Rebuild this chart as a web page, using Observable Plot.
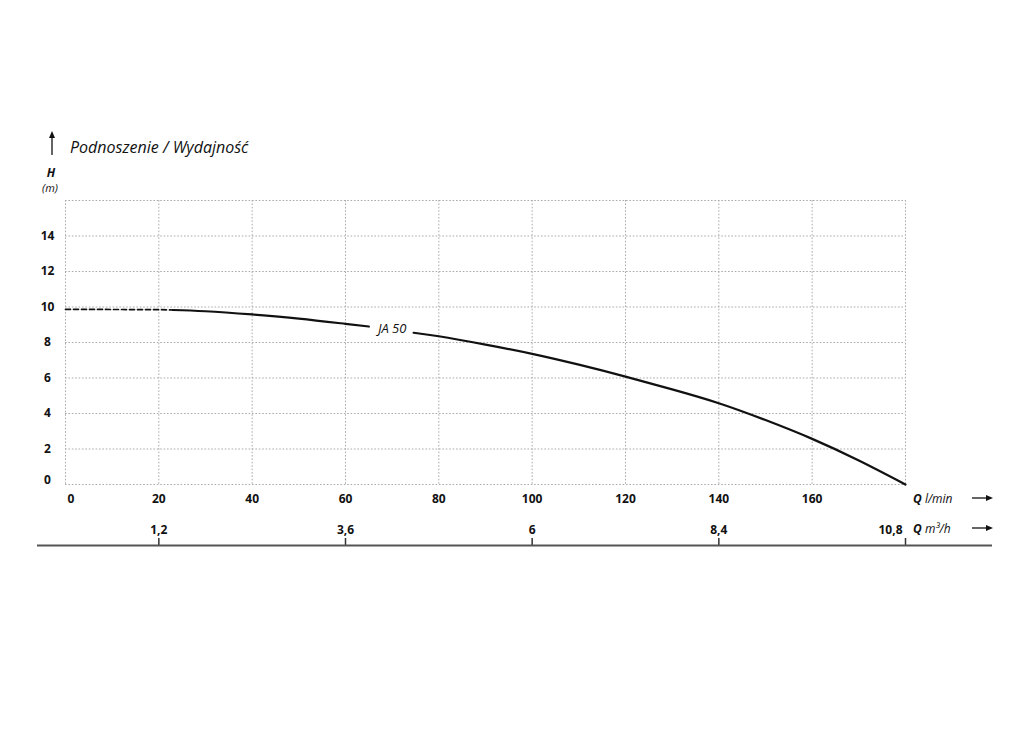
<!DOCTYPE html>
<html>
<head>
<meta charset="utf-8">
<script src="https://cdn.jsdelivr.net/npm/d3@7"></script>
<script src="https://cdn.jsdelivr.net/npm/@observablehq/plot@0.6"></script>
<style>
  html, body { margin: 0; padding: 0; background: #fff; }
  #chart { width: 1024px; height: 731px; }
</style>
</head>
<body>
<div id="chart"></div>
<script>
// ---- data ----
const qGrid = [0, 20, 40, 60, 80, 100, 120, 140, 160, 180];       // l/min grid lines
const hGrid = [0, 2, 4, 6, 8, 10, 12, 14, 16];                    // m grid lines
const qLabels = [20, 40, 60, 80, 100, 120, 140, 160];             // l/min tick labels (0 drawn separately)
const hLabels = [2, 4, 6, 8, 10, 12, 14];                         // m tick labels (0 drawn separately)
const m3hTicks = [1.2, 3.6, 6, 8.4, 10.8];                        // m3/h tick labels
const m3hText = ["1,2", "3,6", "6", "8,4", "10,8"];

// JA 50 curve: dashed start, then solid with a gap for its label
const dashQ = [0, 10, 20, 23];
const dashH = [9.87, 9.86, 9.85, 9.83];
const solidQ1 = [23, 30, 40, 50, 60, 65];
const solidH1 = [9.83, 9.76, 9.58, 9.35, 9.05, 8.9];
const solidQ2 = [74.6, 80, 90, 100, 110, 120, 130, 140, 150, 160, 170, 180];
const solidH2 = [8.55, 8.35, 7.88, 7.36, 6.75, 6.08, 5.36, 4.58, 3.63, 2.57, 1.35, 0];
const curveName = "JA 50";
const labelQ = 70, labelH = 8.79;

// ---- build ----
const FONT = "'Open Sans', 'DejaVu Sans', sans-serif";
const toRows = (qs, hs, seg) => qs.map((q, i) => ({q, h: hs[i], seg}));
const dashRows = toRows(dashQ, dashH, "d");
const solidRows = [...toRows(solidQ1, solidH1, "a"), ...toRows(solidQ2, solidH2, "b")];
const lpmFromM3h = v => v / 0.06;
const m3hPos = m3hTicks.map(lpmFromM3h);
const m3hLabelMap = new Map(m3hPos.map((p, i) => [Math.round(p * 1000) / 1000, m3hText[i]]));
const m3hFmt = d => m3hLabelMap.get(Math.round(d * 1000) / 1000);

const gridStyle = {stroke: "#ababab", strokeOpacity: 1, strokeWidth: 1, strokeDasharray: "1.6,1.8"};
const tickText = {fontWeight: "bold", fontSize: 12, label: null};

const chart = Plot.plot({
  width: 1024,
  height: 731,
  marginTop: 200,
  marginBottom: 247,
  marginLeft: 65,
  marginRight: 119,
  x: {domain: [0, 180]},
  y: {domain: [0, 16]},
  style: {fontFamily: FONT, background: "#fff", color: "#111", overflow: "visible"},
  marks: [
    Plot.gridX(qGrid, gridStyle),
    Plot.gridY(hGrid, gridStyle),
    // y tick labels
    Plot.axisY(hLabels, {...tickText, tickSize: 0, tickPadding: 18, textAnchor: "middle"}),
    Plot.axisY([0], {...tickText, tickSize: 0, tickPadding: 18, textAnchor: "middle", dy: -4}),
    // l/min tick labels
    Plot.axisX(qLabels, {...tickText, tickSize: 0, tickPadding: 10}),
    Plot.axisX([0], {...tickText, tickSize: 0, tickPadding: 10, textAnchor: "start", dx: 2}),
    // m3/h labels
    Plot.axisX(m3hPos.slice(0, -1), {...tickText, tickSize: 0, tickPadding: 41, tickFormat: m3hFmt}),
    Plot.axisX(m3hPos.slice(-1), {...tickText, tickSize: 0, tickPadding: 41, tickFormat: m3hFmt, textAnchor: "end", dx: -3}),
    // m3/h tick marks
    Plot.axisX(m3hPos, {tickSize: 7, dy: 54, tickFormat: () => "", label: null, stroke: "#333", strokeWidth: 1.5}),
    // base line
    Plot.ruleY([0], {dy: 61, insetLeft: -28, insetRight: -87, stroke: "#555", strokeWidth: 2}),
    // curve
    Plot.line(dashRows, {x: "q", y: "h", stroke: "#111", strokeWidth: 1.7, strokeDasharray: "5,3", curve: "monotone-x"}),
    Plot.line(solidRows, {x: "q", y: "h", z: "seg", stroke: "#111", strokeWidth: 2.2, curve: "natural"}),
    Plot.text([{q: labelQ, h: labelH, t: curveName}], {x: "q", y: "h", text: "t", fontStyle: "italic", fontSize: 13, fill: "#111"})
  ]
});
document.getElementById("chart").appendChild(chart);

// ---- annotations (titles, units, arrows) ----
const svg = d3.select(chart);
const ann = svg.append("g").attr("font-family", FONT).attr("fill", "#111").attr("text-anchor", "start");

function arrow(x1, y1, x2, y2) {
  const g = ann.append("g").attr("stroke", "#111").attr("fill", "#111");
  const ang = Math.atan2(y2 - y1, x2 - x1);
  const L = 7, W = 3;
  const bx = x2 - L * Math.cos(ang), by = y2 - L * Math.sin(ang);
  g.append("line").attr("x1", x1).attr("y1", y1).attr("x2", bx).attr("y2", by).attr("stroke-width", 1.3);
  const px = -Math.sin(ang) * W, py = Math.cos(ang) * W;
  g.append("path").attr("stroke", "none")
    .attr("d", `M${x2},${y2}L${bx + px},${by + py}L${bx - px},${by - py}Z`);
}

arrow(52, 155, 52, 131);
ann.append("text").attr("x", 70).attr("y", 153).attr("font-size", 16).attr("font-style", "italic")
  .attr("text-anchor", "start").text("Podnoszenie / Wydajność");
ann.append("text").attr("x", 51).attr("y", 177).attr("text-anchor", "middle").attr("font-size", 12)
  .attr("font-style", "italic").attr("font-weight", "bold").text("H");
ann.append("text").attr("x", 50).attr("y", 192).attr("text-anchor", "middle").attr("font-size", 11)
  .attr("font-style", "italic").text("(m)");

const q1 = ann.append("text").attr("x", 913).attr("y", 503).attr("font-size", 12).attr("font-style", "italic").attr("text-anchor", "start");
q1.append("tspan").attr("font-weight", "bold").text("Q");
q1.append("tspan").text(" l/min");
const q2 = ann.append("text").attr("x", 913).attr("y", 533).attr("font-size", 12).attr("font-style", "italic").attr("text-anchor", "start");
q2.append("tspan").attr("font-weight", "bold").text("Q");
q2.append("tspan").text(" m³/h");
arrow(972, 498, 993, 498);
arrow(972, 528, 993, 528);
</script>
</body>
</html>
